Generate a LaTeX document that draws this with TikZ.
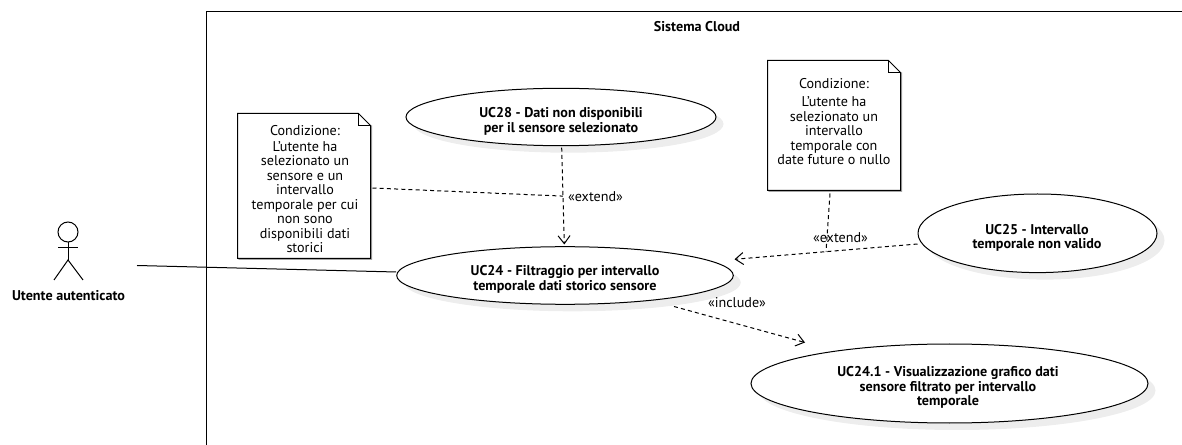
\documentclass[tikz,border=0pt]{standalone}
\usepackage{fontspec}
\setmainfont{PT Sans}
\usetikzlibrary{calc}
\usetikzlibrary{positioning}
\usetikzlibrary{arrows.meta}
\usetikzlibrary{shapes.geometric}

\begin{document}
\begin{tikzpicture}[x=0.75pt, y=-0.75pt, line width=0.75pt,
        every node/.style={font=\fontsize{10.6}{10.9}\selectfont},
        usecase/.style={ellipse, draw=black, fill=white, inner sep=0pt, align=center, font=\fontsize{10.6}{10.9}\selectfont\bfseries},
        shade/.style={ellipse, fill=black!7, inner sep=0pt},
        notebox/.style={rectangle, inner sep=0pt, minimum width=#1},
        dep/.style={dashed, dash pattern=on 3pt off 2.4pt, -{Straight Barb[length=6pt, width=9pt]}},
        link/.style={dashed, dash pattern=on 3pt off 2.4pt},
        stereo/.style={inner sep=0pt}]
        \useasboundingbox (0, 0) rectangle (1182, 445);
        % sistema
        \coordinate (S1) at (206, 445);
        \coordinate (S2) at (206, 12);
        \coordinate (S3) at (1182, 12);
        \draw (S1) -- (S2) -- (S3);
        \node[font=\fontsize{10.6}{10.9}\selectfont\bfseries] (sistema) at (697, 27) {Sistema Cloud};
        % attore
        \node[circle, draw, minimum size=15pt, inner sep=0pt] (head) at (68, 232) {};
        \coordinate (hip) at (68, 260);
        \coordinate (armL) at (58, 248);
        \coordinate (armR) at (78, 248);
        \coordinate (legL) at (54, 280);
        \coordinate (legR) at (83, 280);
        \draw (head.south) -- (hip);
        \draw (armL) -- (armR);
        \draw (legL) -- (hip) -- (legR);
        \node[font=\fontsize{10.6}{10.9}\selectfont\bfseries] (actor) at (68.5, 296) {Utente autenticato};
        \coordinate (actorEnd) at (137, 265.5);
        % casi d'uso
        \foreach \c/\rx/\ry in {{561, 117}/155/28.7, {565, 275.5}/168.3/28.8, {1037.5, 233.3}/119.5/39.3, {949.5, 383.5}/198.5/39.5}
        {
            \node[shade, minimum width=2*\rx*0.75pt, minimum height=2*\ry*0.75pt] at ($(\c) + (7.5, 7)$) {};
        }
        \node[usecase, minimum width=232.5pt, minimum height=43.05pt] (uc28) at (561, 117) {};
        \node[usecase, minimum width=252.45pt, minimum height=43.2pt] (uc24) at (565, 275.5) {};
        \node[usecase, minimum width=179.25pt, minimum height=58.95pt] (uc25) at (1037.5, 233.3) {};
        \node[usecase, minimum width=297.75pt, minimum height=59.25pt] (uc241) at (949.5, 383.5) {};
        \node[usecase, draw=none, fill=none] (uc28t) at (561, 121.4) {UC28 - Dati non disponibili\\per il sensore selezionato};
        \node[usecase, draw=none, fill=none] (uc24t) at (565, 279.5) {UC24 - Filtraggio per intervallo\\temporale dati storico sensore};
        \node[usecase, draw=none, fill=none] (uc25t) at (1037, 238) {UC25 - Intervallo\\temporale non valido};
        \node[usecase, draw=none, fill=none] (uc241t) at (948, 387.8) {UC24.1 - Visualizzazione grafico dati\\sensore filtrato per intervallo\\temporale};
        % note
        \node[notebox=99pt, minimum height=108pt, draw=none, align=center] (note1) at (304, 186) {};
        \node[notebox=99pt, minimum height=96.75pt, draw=none, align=center] (note2) at (834, 125.5) {};
        \foreach \n in {note1, note2}
        {
            \coordinate (F1) at ($(\n.north east) - (12, 0)$);
            \coordinate (F2) at ($(\n.north east) + (0, 12)$);
            \fill[black!35] ($(F2) + (1.5, 0)$) -- ($(\n.south east) + (1.5, 1.5)$) -- ($(\n.south west) + (1.5, 1.5)$) -- (\n.south west) -- (\n.south east) -- (F2) -- cycle;
            \draw[fill=white] (\n.north west) -- (F1) -- (F2) -- (\n.south east) -- (\n.south west) -- cycle;
            \draw (F1) -- ($(F1) + (0, 12)$) -- (F2);
        }
        \node[align=center, inner sep=0pt] (note1t) at (305, 189) {Condizione:\\[1pt]L'utente ha\\selezionato un\\sensore e un\\intervallo\\temporale per cui\\non sono\\disponibili dati\\storici};
        \node[align=center, inner sep=0pt] (note2t) at (834, 121.7) {Condizione:\\[2.5pt]L'utente ha\\selezionato un\\intervallo\\temporale con\\date future o nullo};
        % connettori
        \draw (actorEnd) -- ($(uc24.west) + (0, -3.5)$);
        \draw[dep] ($(uc28.south) + (0.7, 1.5)$) -- coordinate[pos=0.5] (ext28) ($(uc24.north) + (-0.7, -1.7)$);
        \draw[link] ($(note1.east) + (2, 2)$) -- (ext28);
        \draw[dep] ($(uc25.west) + (0, 10.7)$) -- coordinate[pos=0.5] (ext25) ($(uc24.east) + (0.7, -16.2)$);
        \draw[link] ($(note2.south) + (-4, 3)$) -- (ext25);
        \draw[dep] ($(uc24.south) + (109, 1.7)$) -- ($(uc241.north) + (-144.5, -1)$);
        \node[stereo] (lbl28) at (595.5, 197) {«extend»};
        \node[stereo] (lbl25) at (840.5, 238) {«extend»};
        \node[stereo] (lbl24) at (737, 303) {«include»};
    \end{tikzpicture}
\end{document}
